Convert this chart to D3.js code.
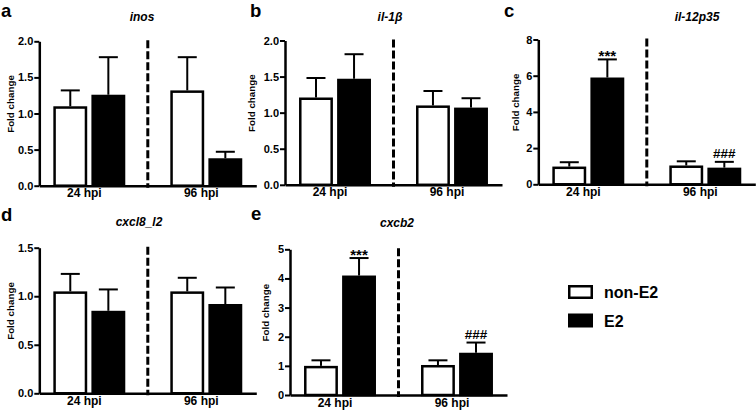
<!DOCTYPE html>
<html>
<head>
<meta charset="utf-8">
<script src="https://cdn.jsdelivr.net/npm/d3@7"></script>
<style>
  html, body { margin: 0; padding: 0; background: #fff; }
  svg { display: block; }
  text { font-family: "Liberation Sans", Arial, sans-serif; fill: #000; }
</style>
</head>
<body>
<svg id="chart" width="756" height="410"></svg>
<script>
// ---------------- DATA ----------------
const groups = ["24 hpi", "96 hpi"];
const series = ["non-E2", "E2"];
const panelLetters = ["a", "b", "c", "d", "e"];
const geneNames = ["inos", "il-1β", "il-12p35", "cxcl8_l2", "cxcb2"];
// mean fold change per panel, [24 hpi, 96 hpi]
const meanNonE2 = [[1.10, 1.32], [1.21, 1.10], [0.98, 1.04], [1.05, 1.05], [1.00, 1.03]];
const semNonE2  = [[0.22, 0.46], [0.27, 0.20], [0.24, 0.23], [0.18, 0.14], [0.19, 0.16]];
const meanE2    = [[1.26, 0.38], [1.47, 1.07], [5.90, 0.92], [0.85, 0.92], [4.10, 1.45]];
const semE2     = [[0.52, 0.09], [0.34, 0.13], [1.00, 0.32], [0.22, 0.17], [0.60, 0.35]];
const yMax      = [2, 2, 8, 1.5, 5];
const yStep     = [0.5, 0.5, 2, 0.5, 1];
const yDecimals = [1, 1, 0, 1, 0];
// significance marks: [panel index, series index, group index, text]
const marks = [[2, 1, 0, "***"], [2, 1, 1, "###"], [4, 1, 0, "***"], [4, 1, 1, "###"]];
const yTitle = "Fold change";

// ---------------- LAYOUT ----------------
const layout = [
  { x0: 39.3,  top: 41.3,  bottom: 185.7, letter: [1, 17],     title: [142, 21],  ylab: 13.5 },
  { x0: 285,   top: 40.5,  bottom: 184.8, letter: [250, 17],   title: [390, 20.5],ylab: 255 },
  { x0: 538.3, top: 39.5,  bottom: 184.3, letter: [504, 17],   title: [697, 20.5],ylab: 518.5 },
  { x0: 39.3,  top: 247.7, bottom: 393.3, letter: [1, 221],    title: [139, 225.5],ylab: 13.5 },
  { x0: 290,   top: 249.3, bottom: 395,   letter: [251, 220],  title: [397, 227],  ylab: 268.5 }
];
const plotWidth = 217;

const svg = d3.select("#chart");

const x0 = d3.scaleBand().domain(groups).range([0, plotWidth])
  .paddingInner(0.385).paddingOuter(0.12);
const x1 = d3.scaleBand().domain(series).range([0, x0.bandwidth()]).paddingInner(0.11);
const sw = 2.5;

layout.forEach((L, p) => {
  const g = svg.append("g").attr("transform", `translate(${L.x0},0)`);
  const y = d3.scaleLinear().domain([0, yMax[p]]).range([L.bottom, L.top]);
  const ticks = d3.range(0, yMax[p] + 1e-9, yStep[p]);

  const rows = [];
  groups.forEach((gr, gi) => {
    series.forEach((s, si) => {
      const m = si === 0 ? meanNonE2[p][gi] : meanE2[p][gi];
      const e = si === 0 ? semNonE2[p][gi] : semE2[p][gi];
      rows.push({ gr, gi, s, si, m, e });
    });
  });

  // error bars (upper half only)
  const eg = g.append("g");
  rows.forEach(r => {
    const cx = x0(r.gr) + x1(r.s) + x1.bandwidth() / 2;
    eg.append("line").attr("x1", cx).attr("x2", cx)
      .attr("y1", y(r.m)).attr("y2", y(r.m + r.e))
      .attr("stroke", "#000").attr("stroke-width", 2);
    eg.append("line").attr("x1", cx - 9.5).attr("x2", cx + 9.5)
      .attr("y1", y(r.m + r.e)).attr("y2", y(r.m + r.e))
      .attr("stroke", "#000").attr("stroke-width", 2);
  });

  g.append("g").selectAll("rect").data(rows).join("rect")
    .attr("x", d => x0(d.gr) + x1(d.s) + sw / 2)
    .attr("width", x1.bandwidth() - sw)
    .attr("y", d => y(d.m) + sw / 2)
    .attr("height", d => Math.max(0, y(0) - y(d.m) - sw / 2))
    .attr("fill", d => d.si === 0 ? "#fff" : "#000")
    .attr("stroke", "#000").attr("stroke-width", sw);

  // dashed separator between groups
  const sepX = (x0(groups[0]) + x0.bandwidth() + x0(groups[1])) / 2;
  g.append("line").attr("x1", sepX).attr("x2", sepX)
    .attr("y1", L.top - 1).attr("y2", L.bottom + 2)
    .attr("stroke", "#000").attr("stroke-width", 3)
    .attr("stroke-dasharray", "8,3");

  // y axis
  const ya = g.append("g").call(
    d3.axisLeft(y).tickValues(ticks).tickSize(5).tickSizeOuter(0).tickPadding(1)
      .tickFormat(d3.format(`.${yDecimals[p]}f`)));
  ya.select(".domain").attr("stroke-width", sw);
  ya.selectAll(".tick line").attr("stroke-width", 2);
  ya.selectAll(".tick text").attr("font-size", 11).attr("font-weight", "bold")
    .attr("font-family", "Liberation Sans, Arial, sans-serif").attr("fill", "#000");

  // x axis
  const xa = g.append("g").attr("transform", `translate(0,${L.bottom})`).call(
    d3.axisBottom(x0).tickSize(0).tickSizeOuter(0).tickPadding(3));
  xa.select(".domain").attr("stroke-width", sw);
  xa.selectAll(".tick text").attr("font-size", 12).attr("font-weight", "bold")
    .attr("dx", -5).attr("font-family", "Liberation Sans, Arial, sans-serif").attr("fill", "#000");

  // significance marks
  marks.filter(mk => mk[0] === p).forEach(mk => {
    const si = mk[1], gi = mk[2];
    const m = si === 0 ? meanNonE2[p][gi] : meanE2[p][gi];
    const e = si === 0 ? semNonE2[p][gi] : semE2[p][gi];
    const cx = x0(groups[gi]) + x1(series[si]) + x1.bandwidth() / 2;
    const isStar = mk[3] === "***";
    g.append("text").attr("x", cx).attr("y", y(m + e) - (isStar ? -2 : 4))
      .attr("text-anchor", "middle").attr("font-weight", "bold")
      .attr("font-size", isStar ? 15 : 13.5).text(mk[3]);
  });

  // panel letter
  svg.append("text").attr("x", L.letter[0]).attr("y", L.letter[1])
    .attr("font-size", 18.5).attr("font-weight", "bold").text(panelLetters[p]);
  // title
  svg.append("text").attr("x", L.title[0]).attr("y", L.title[1])
    .attr("text-anchor", "middle").attr("font-size", 12)
    .attr("font-weight", "bold").attr("font-style", "italic").text(geneNames[p]);
  // y title
  const yc = (L.top + L.bottom) / 2 - 9.5;
  svg.append("text").attr("transform", `translate(${L.ylab},${yc}) rotate(-90)`)
    .attr("text-anchor", "middle").attr("font-size", 9.8).attr("font-weight", "bold")
    .text(yTitle);
});

// legend
const lg = svg.append("g");
series.forEach((s, i) => {
  lg.append("rect").attr("x", 568 + sw / 2).attr("y", 285 + i * 28.5 + sw / 2)
    .attr("width", 25 - sw).attr("height", 14 - sw)
    .attr("fill", i === 0 ? "#fff" : "#000").attr("stroke", "#000").attr("stroke-width", sw);
  lg.append("text").attr("x", 604).attr("y", 298 + i * 28.5)
    .attr("font-size", 16).attr("font-weight", "bold").text(s);
});
</script>
</body>
</html>
